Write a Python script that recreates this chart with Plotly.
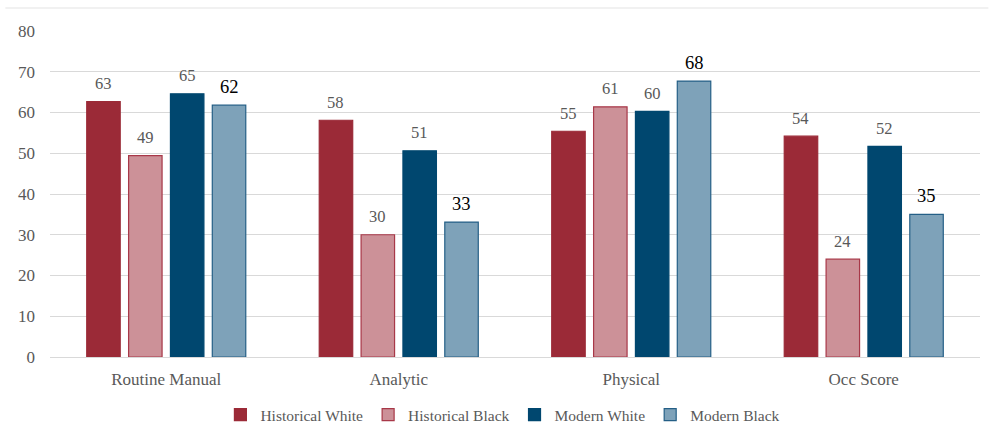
import plotly.graph_objects as go

categories = ["Routine Manual", "Analytic", "Physical", "Occ Score"]
series_names = ["Historical White", "Historical Black", "Modern White", "Modern Black"]
historical_white = [62.7, 58.1, 55.4, 54.2]
historical_black = [49.4, 30.0, 61.4, 24.0]
modern_white = [64.6, 50.6, 60.3, 51.7]
modern_black = [61.8, 33.1, 67.7, 35.0]
y_ticks = [0, 10, 20, 30, 40, 50, 60, 70, 80]

series_values = [historical_white, historical_black, modern_white, modern_black]
fills = ["#9B2A37", "#CC9198", "#00476F", "#7EA2B9"]
borders = ["#9B2A37", "#A83848", "#00476F", "#245F86"]
label_colors = ["#595959", "#595959", "#595959", "#000000"]
label_sizes = [16.5, 16.5, 16.5, 18.5]

FONT = "Liberation Serif"

fig = go.Figure()
for name, vals, fc, bc in zip(series_names, series_values, fills, borders):
    fig.add_trace(go.Bar(
        x=categories, y=vals, name=name,
        marker=dict(color=fc, line=dict(color=bc, width=1.2)),
    ))

# value labels above each bar, offset by bar slot within the group
slot_px = 41.9
for i, vals in enumerate(series_values):
    for cat, v in zip(categories, vals):
        fig.add_annotation(
            x=cat, y=v, text=f"{v:.0f}", showarrow=False,
            xshift=(i - 1.5) * slot_px, yshift=18, yanchor="middle",
            font=dict(family=FONT, size=label_sizes[i], color=label_colors[i]),
        )

# thin rule across the top of the chart frame
fig.add_shape(type="line", xref="paper", yref="paper",
              x0=-0.048, x1=1.009, y0=1.0706, y1=1.0706,
              line=dict(color="#E3E3E3", width=1))

fig.update_layout(
    width=993, height=430,
    margin=dict(l=50, r=13, t=31, b=73, autoexpand=False),
    paper_bgcolor="white", plot_bgcolor="white",
    barmode="group", bargap=0.28, bargroupgap=0.2,
    font=dict(family=FONT, size=17, color="#595959"),
    legend=dict(orientation="h", x=0.487, xanchor="center",
                yref="container", y=0.035, yanchor="middle",
                font=dict(family=FONT, size=15.5, color="#595959"),
                itemwidth=30, traceorder="normal"),
    xaxis=dict(showgrid=False, ticks="", showline=False, ticklabelstandoff=10,
               tickfont=dict(family=FONT, size=17, color="#595959")),
    yaxis=dict(range=[0, 80], tickvals=y_ticks, showgrid=True, gridcolor="#D9D9D9",
               gridwidth=1, zeroline=True, zerolinecolor="#D9D9D9", zerolinewidth=1,
               showline=False, ticks="", ticklabelstandoff=14,
               tickfont=dict(family=FONT, size=17, color="#595959")),
)

fig.write_html("out.html")
